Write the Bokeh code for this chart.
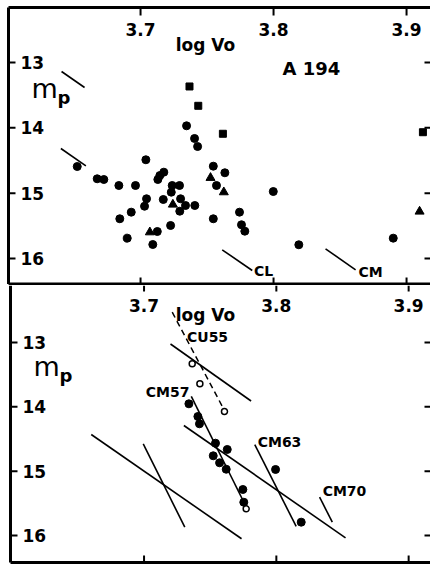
from bokeh.plotting import figure
from bokeh.models import Range1d
from bokeh.layouts import column
from bokeh.embed import file_html
from bokeh.resources import INLINE
from bokeh.core.properties import value

# ---------------- data ----------------
# Top panel: A 194, apparent photographic magnitude vs log Vo
dot_logv = [3.6524, 3.6674, 3.6724, 3.7040, 3.7130, 3.7145, 3.7175, 3.6837, 3.6962,
            3.7045, 3.7030, 3.7171, 3.7238, 3.7293, 3.7231, 3.7301, 3.7338, 3.7295,
            3.7408, 3.7547, 3.7571, 3.7547, 3.6930, 3.6844, 3.7226, 3.7126, 3.6900,
            3.7092, 3.7634, 3.7998, 3.7744, 3.7759, 3.7784, 3.8190, 3.8900, 3.7346,
            3.7406, 3.7429]
dot_mp = [14.592, 14.780, 14.791, 14.489, 14.791, 14.730, 14.679, 14.883, 14.883,
          15.086, 15.200, 15.097, 14.883, 14.883, 14.985, 15.086, 15.189, 15.276,
          15.189, 14.587, 14.883, 15.392, 15.291, 15.392, 15.495, 15.587, 15.689,
          15.786, 14.688, 14.975, 15.291, 15.484, 15.582, 15.790, 15.689, 13.969,
          14.163, 14.286]
square_logv = [3.7368, 3.7434, 3.7619, 3.9123]
square_mp = [13.367, 13.663, 14.091, 14.067]
tri_logv = [3.7243, 3.7070, 3.7526, 3.7626, 3.9098]
tri_mp = [15.174, 15.598, 14.765, 14.985, 15.281]

# short reference slopes in top panel
slope_x0 = [3.6406, 3.6401, 3.7614, 3.8391]
slope_m0 = [13.138, 14.316, 15.867, 15.852]
slope_x1 = [3.6579, 3.6589, 3.7840, 3.8617]
slope_m1 = [13.383, 14.581, 16.184, 16.173]
slope_names = ["CL", "CM"]
slope_name_x = [3.7925, 3.8729]
slope_name_m = [16.184, 16.214]

# Bottom panel: cluster members and sequence lines
filled_logv = [3.7339, 3.7407, 3.7419, 3.7540, 3.7629, 3.7523, 3.7571, 3.7621,
               3.7747, 3.7754, 3.7994, 3.8188]
filled_mp = [13.953, 14.150, 14.264, 14.565, 14.663, 14.761, 14.870, 14.970,
             15.285, 15.483, 14.974, 15.793]
open_logv = [3.7364, 3.7422, 3.7608, 3.7772]
open_mp = [13.331, 13.642, 14.073, 15.585]

cu55_dash_x = [3.7213, 3.7616]
cu55_dash_m = [12.529, 14.088]
solid_x0 = [3.7200, 3.7357, 3.7301, 3.7837, 3.8327, 3.6601, 3.6994]
solid_m0 = [13.023, 13.839, 14.290, 14.586, 15.405, 14.430, 14.575]
solid_x1 = [3.7809, 3.7767, 3.8523, 3.8150, 3.8423, 3.7737, 3.7308]
solid_m1 = [13.909, 15.534, 16.036, 15.860, 15.793, 16.051, 15.871]
seq_names = ["CU55", "CM57", "CM63", "CM70"]
seq_name_x = [3.7480, 3.7178, 3.8024, 3.8515]
seq_name_m = [12.922, 13.777, 14.554, 15.316]

x_ticks = [3.7, 3.8, 3.9]
x_tick_labels = ["3.7", "3.8", "3.9"]
m_ticks = [13, 14, 15, 16]
m_tick_labels = ["13", "14", "15", "16"]

FONT = value("DejaVu Sans")
W = 430


def make_panel(h, x0, sx, m0, sy, left_px, top_px, bottom_px):
    x1 = x0 + W / sx
    m1 = m0 + h / sy
    p = figure(width=W, height=h, x_range=Range1d(x0, x1), y_range=Range1d(m1, m0),
               output_backend="svg", toolbar_location=None,
               x_axis_location=None, y_axis_location=None, min_border=0)
    p.outline_line_color = None
    p.xgrid.grid_line_color = None
    p.ygrid.grid_line_color = None
    p.background_fill_color = "white"
    p.border_fill_color = "white"

    def X(px):
        return x0 + px / sx

    def M(py):
        return m0 + py / sy

    fl = X(left_px)
    xr = X(W)
    # frame
    if top_px is not None:
        p.segment(x0=[fl], y0=[M(top_px)], x1=[xr], y1=[M(top_px)],
                  line_color="black", line_width=3)
    p.segment(x0=[fl], y0=[M(top_px if top_px is not None else 0)], x1=[fl], y1=[M(bottom_px)],
              line_color="black", line_width=3)
    p.segment(x0=[fl], y0=[M(bottom_px)], x1=[xr], y1=[M(bottom_px)],
              line_color="black", line_width=3)
    # left & right ticks
    p.segment(x0=[fl] * 4, y0=m_ticks, x1=[X(left_px + 7)] * 4, y1=m_ticks,
              line_color="black", line_width=2)
    p.segment(x0=[X(W - 6)] * 4, y0=m_ticks, x1=[xr] * 4, y1=m_ticks,
              line_color="black", line_width=2)
    p.text(x=[X(left_px + 12)] * 4, y=m_ticks, text=m_tick_labels,
           text_font=FONT, text_font_size="17px", text_font_style="bold",
           text_align="left", text_baseline="middle", text_color="black")
    return p, X, M


# ---------- top panel ----------
p1, X1, M1 = make_panel(285, 3.5947, 1330.0, 12.051, 65.33, 8, 7, 283.5)
p1.segment(x0=x_ticks, y0=[M1(7)] * 3, x1=x_ticks, y1=[M1(15)] * 3, line_color="black", line_width=2)
p1.segment(x0=x_ticks, y0=[M1(277)] * 3, x1=x_ticks, y1=[M1(285)] * 3, line_color="black", line_width=2)
p1.text(x=x_ticks, y=[M1(29)] * 3, text=x_tick_labels, text_font=FONT, text_font_size="17px",
        text_font_style="bold", text_align="center", text_baseline="middle")
p1.text(x=[X1(205)], y=[M1(44)], text=["log Vo"], text_font=FONT, text_font_size="17px",
        text_font_style="bold", text_align="center", text_baseline="middle")
p1.text(x=[X1(311)], y=[M1(68)], text=["A 194"], text_font=FONT, text_font_size="18px",
        text_font_style="bold", text_align="center", text_baseline="middle")
p1.text(x=[X1(31)], y=[M1(88)], text=["m"], text_font=FONT, text_font_size="27px",
        text_align="left", text_baseline="middle")
p1.text(x=[X1(57)], y=[M1(97)], text=["p"], text_font=FONT, text_font_size="18px",
        text_font_style="bold", text_align="left", text_baseline="middle")

p1.segment(x0=slope_x0, y0=slope_m0, x1=slope_x1, y1=slope_m1, line_color="black", line_width=1.6)
p1.text(x=slope_name_x, y=slope_name_m, text=slope_names, text_font=FONT, text_font_size="14px",
        text_font_style="bold", text_align="center", text_baseline="middle")

p1.scatter(dot_logv, dot_mp, marker="circle", size=8, fill_color="black", line_color="black")
p1.scatter(square_logv, square_mp, marker="square", size=7, fill_color="black", line_color="black")
p1.scatter(tri_logv, tri_mp, marker="triangle", size=9, fill_color="black", line_color="black")

# ---------- bottom panel ----------
p2, X2, M2 = make_panel(279, 3.5915, 1323.0, 12.114, 64.33, 10, None, 277)
p2.segment(x0=x_ticks, y0=[M2(0)] * 3, x1=x_ticks, y1=[M2(6)] * 3, line_color="black", line_width=2)
p2.segment(x0=x_ticks, y0=[M2(270)] * 3, x1=x_ticks, y1=[M2(277)] * 3, line_color="black", line_width=2)
p2.text(x=x_ticks, y=[M2(20)] * 3, text=x_tick_labels, text_font=FONT, text_font_size="17px",
        text_font_style="bold", text_align="center", text_baseline="middle")
p2.text(x=[X2(205)], y=[M2(29)], text=["log Vo"], text_font=FONT, text_font_size="17px",
        text_font_style="bold", text_align="center", text_baseline="middle")
p2.text(x=[X2(33)], y=[M2(81)], text=["m"], text_font=FONT, text_font_size="27px",
        text_align="left", text_baseline="middle")
p2.text(x=[X2(59)], y=[M2(90)], text=["p"], text_font=FONT, text_font_size="18px",
        text_font_style="bold", text_align="left", text_baseline="middle")

p2.line(cu55_dash_x, cu55_dash_m, line_color="black", line_width=1.5, line_dash="6 4")
p2.segment(x0=solid_x0, y0=solid_m0, x1=solid_x1, y1=solid_m1, line_color="black", line_width=1.6)
p2.text(x=seq_name_x, y=seq_name_m, text=seq_names, text_font=FONT, text_font_size="14px",
        text_font_style="bold", text_align="center", text_baseline="middle")
p2.scatter(filled_logv, filled_mp, marker="circle", size=8, fill_color="black", line_color="black")
p2.scatter(open_logv, open_mp, marker="circle", size=6, fill_color="white", line_color="black",
           line_width=1.5)

layout = column(p1, p2, spacing=0)
open("out.html", "w").write(file_html(layout, INLINE))
